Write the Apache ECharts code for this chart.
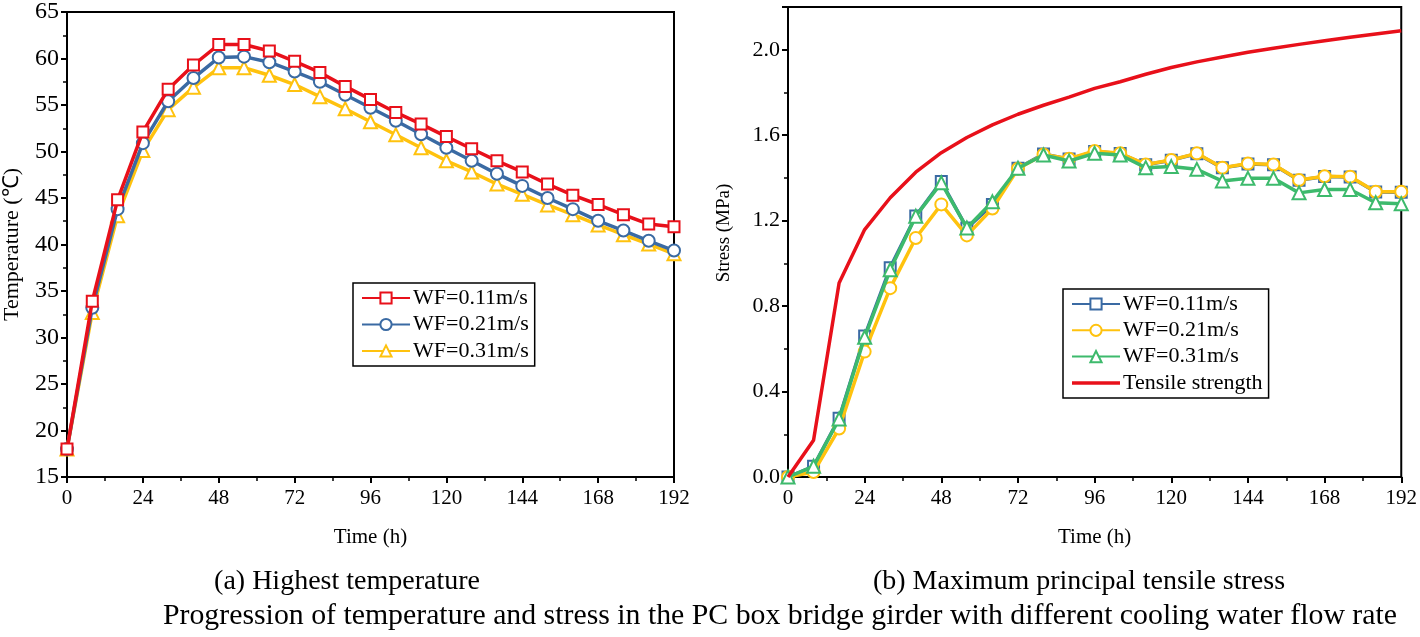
<!DOCTYPE html>
<html>
<head>
<meta charset="utf-8">
<script src="https://cdn.jsdelivr.net/npm/echarts@6/dist/echarts.min.js"></script>
<style>
html,body{margin:0;padding:0;background:#fff;}
#c{width:1420px;height:637px;}
</style>
</head>
<body>
<div id="c"></div>
<script>
// ---- Data ----
const timeH = [0,8,16,24,32,40,48,56,64,72,80,88,96,104,112,120,128,136,144,152,160,168,176,184,192];

// (a) Highest temperature (°C)
const tempWF011 = [18.0,33.9,44.8,52.1,56.7,59.3,61.5,61.5,60.8,59.7,58.5,57.0,55.6,54.2,52.95,51.6,50.3,49.0,47.8,46.5,45.3,44.3,43.2,42.2,41.9];
const tempWF021 = [18.0,33.2,43.8,50.9,55.4,57.9,60.1,60.2,59.6,58.6,57.5,56.1,54.7,53.3,51.85,50.4,49.0,47.6,46.3,45.0,43.8,42.55,41.5,40.4,39.35];
const tempWF031 = [18.0,32.7,43.1,50.1,54.5,56.9,59.0,59.0,58.2,57.2,55.9,54.6,53.2,51.8,50.4,49.0,47.8,46.5,45.4,44.25,43.2,42.1,41.05,40.05,39.0];

// (b) Maximum principal tensile stress (MPa)
const stressWF011 = [0.0,0.05,0.275,0.66,0.98,1.222,1.383,1.165,1.275,1.445,1.512,1.488,1.524,1.514,1.462,1.483,1.513,1.447,1.465,1.462,1.389,1.407,1.404,1.334,1.333];
const stressWF021 = [0.0,0.023,0.227,0.587,0.884,1.119,1.276,1.131,1.257,1.443,1.510,1.490,1.526,1.515,1.463,1.484,1.515,1.448,1.467,1.463,1.390,1.408,1.406,1.335,1.335];
const stressWF031 = [0.0,0.05,0.271,0.654,0.970,1.221,1.377,1.166,1.288,1.445,1.507,1.479,1.515,1.507,1.448,1.453,1.440,1.385,1.398,1.398,1.330,1.346,1.346,1.284,1.279];
const tensileStrength = [0.0,0.172,0.908,1.158,1.307,1.427,1.518,1.589,1.648,1.698,1.740,1.778,1.819,1.850,1.885,1.917,1.943,1.966,1.988,2.007,2.025,2.042,2.058,2.074,2.089];

const tempTicks = {min:15, max:65, interval:5};
const timeTicks = {min:0, max:192, interval:24};
const stressTicks = {min:0, max:2.2, interval:0.4};

// ---- Chart ----
const FONT = '"Liberation Serif","Times New Roman",serif';
const RED = '#E8101A', BLUE = '#3A6AA3', YEL = '#FFC20E', GRN = '#3DBA6C';
const LW = 3.5;

function pairs(ys){ return timeH.map((t,i)=>[t, ys[i]]); }

function xAxisCfg(idx){
  return {
    type:'value', gridIndex:idx, min:timeTicks.min, max:timeTicks.max, interval:timeTicks.interval,
    name:'Time (h)', nameLocation:'middle', nameGap:50,
    nameTextStyle:{fontFamily:FONT, fontSize:21, color:'#000'},
    axisLine:{show:true, onZero:false, lineStyle:{color:'#000', width:2}},
    axisTick:{show:true, inside:false, length:6, lineStyle:{color:'#000', width:2}},
    minorTick:{show:true, splitNumber:2, length:4, lineStyle:{color:'#000', width:1.5}},
    splitLine:{show:false},
    axisLabel:{fontFamily:FONT, fontSize:21, color:'#000', margin:11}
  };
}

const capStyle = {fontFamily:FONT, fontSize:28, fontWeight:'normal', color:'#000'};
const legendText = {fontFamily:FONT, fontSize:22, color:'#000', lineHeight:22, padding:[0,0,0,-2]};
const lineIcon = 'path://M0,0H48V3.5H0Z';

const option = {
  backgroundColor:'#fff',
  animation:false,
  title:[
    {text:'(a) Highest temperature', left:347, top:568, textAlign:'center', padding:0, textStyle:capStyle},
    {text:'(b) Maximum principal tensile stress', left:1079, top:568, textAlign:'center', padding:0, textStyle:capStyle},
    {text:'Progression of temperature and stress in the PC box bridge girder with different cooling water flow rate', left:780, top:601, textAlign:'center', padding:0,
     textStyle:Object.assign({}, capStyle, {fontSize:29.8})}
  ],
  grid:[
    {left:60, top:7, width:614, height:470, show:true, borderColor:'#000', borderWidth:2, backgroundColor:'transparent'},
    {left:788, top:7, width:616, height:470, show:true, borderColor:'#000', borderWidth:2, backgroundColor:'transparent'}
  ],
  legend:[
    {
      data:['WF=0.11m/s','WF=0.21m/s','WF=0.31m/s'].map(n=>({name:n})),
      orient:'vertical', left:353, top:283, itemWidth:48, itemHeight:14, itemGap:4.5,
      padding:[4,6,4,8], borderColor:'#000', borderWidth:1.5, backgroundColor:'#fff',
      textStyle:legendText, selectedMode:false
    },
    {
      data:[{name:'WF=0.11m/s '},{name:'WF=0.21m/s '},{name:'WF=0.31m/s '},{name:'Tensile strength', icon:lineIcon}],
      orient:'vertical', left:1063, top:289, itemWidth:48, itemHeight:14, itemGap:4.3,
      padding:[4,6,4,8], borderColor:'#000', borderWidth:1.5, backgroundColor:'#fff',
      textStyle:legendText, selectedMode:false
    }
  ],
  xAxis:[xAxisCfg(0), xAxisCfg(1)],
  yAxis:[
    {
      type:'value', gridIndex:0, min:tempTicks.min, max:tempTicks.max, interval:tempTicks.interval,
      name:'Temperature (℃)', nameLocation:'middle', nameGap:44,
      nameTextStyle:{fontFamily:FONT, fontSize:22, color:'#000'},
      axisLine:{show:true, onZero:false, lineStyle:{color:'#000', width:2}},
      axisTick:{show:true, inside:false, length:6, lineStyle:{color:'#000', width:2}},
      minorTick:{show:true, splitNumber:2, length:4, lineStyle:{color:'#000', width:1.5}},
      splitLine:{show:false},
      axisLabel:{fontFamily:FONT, fontSize:24, color:'#000', margin:8}
    },
    {
      type:'value', gridIndex:1, min:stressTicks.min, max:stressTicks.max, interval:stressTicks.interval,
      name:'Stress (MPa)', nameLocation:'middle', nameGap:54,
      nameTextStyle:{fontFamily:FONT, fontSize:19, color:'#000', padding:[0,0,0,18]},
      axisLine:{show:true, onZero:false, lineStyle:{color:'#000', width:2}},
      axisTick:{show:true, inside:false, length:6, lineStyle:{color:'#000', width:2}},
      minorTick:{show:true, splitNumber:2, length:4, lineStyle:{color:'#000', width:1.5}},
      splitLine:{show:false},
      axisLabel:{fontFamily:FONT, fontSize:22, color:'#000', margin:8, showMaxLabel:false,
        formatter:v=> v>2.1 ? '' : v.toFixed(1)}
    }
  ],
  series:[
    {name:'WF=0.11m/s', type:'line', xAxisIndex:0, yAxisIndex:0, data:pairs(tempWF011),
     symbol:'emptyRect', symbolSize:11, lineStyle:{color:RED, width:LW}, itemStyle:{color:RED, borderWidth:2}, z:4},
    {name:'WF=0.21m/s', type:'line', xAxisIndex:0, yAxisIndex:0, data:pairs(tempWF021),
     symbol:'emptyCircle', symbolSize:12, lineStyle:{color:BLUE, width:LW}, itemStyle:{color:BLUE, borderWidth:2}, z:3},
    {name:'WF=0.31m/s', type:'line', xAxisIndex:0, yAxisIndex:0, data:pairs(tempWF031),
     symbol:'emptyTriangle', symbolSize:13, lineStyle:{color:YEL, width:LW}, itemStyle:{color:YEL, borderWidth:2}, z:2},

    {name:'WF=0.11m/s ', type:'line', xAxisIndex:1, yAxisIndex:1, data:pairs(stressWF011),
     symbol:'emptyRect', symbolSize:11, lineStyle:{color:BLUE, width:LW}, itemStyle:{color:BLUE, borderWidth:2}, z:2},
    {name:'WF=0.21m/s ', type:'line', xAxisIndex:1, yAxisIndex:1, data:pairs(stressWF021),
     symbol:'emptyCircle', symbolSize:12, lineStyle:{color:YEL, width:LW}, itemStyle:{color:YEL, borderWidth:2}, z:3},
    {name:'WF=0.31m/s ', type:'line', xAxisIndex:1, yAxisIndex:1, data:pairs(stressWF031),
     symbol:'emptyTriangle', symbolSize:13, lineStyle:{color:GRN, width:LW}, itemStyle:{color:GRN, borderWidth:2}, z:4},
    {name:'Tensile strength', type:'line', xAxisIndex:1, yAxisIndex:1, data:pairs(tensileStrength),
     symbol:'none', lineStyle:{color:RED, width:LW}, itemStyle:{color:RED}, z:5}
  ]
};

const chart = echarts.init(document.getElementById('c'), null, {renderer:'canvas'});
chart.setOption(option);
</script>
</body>
</html>
